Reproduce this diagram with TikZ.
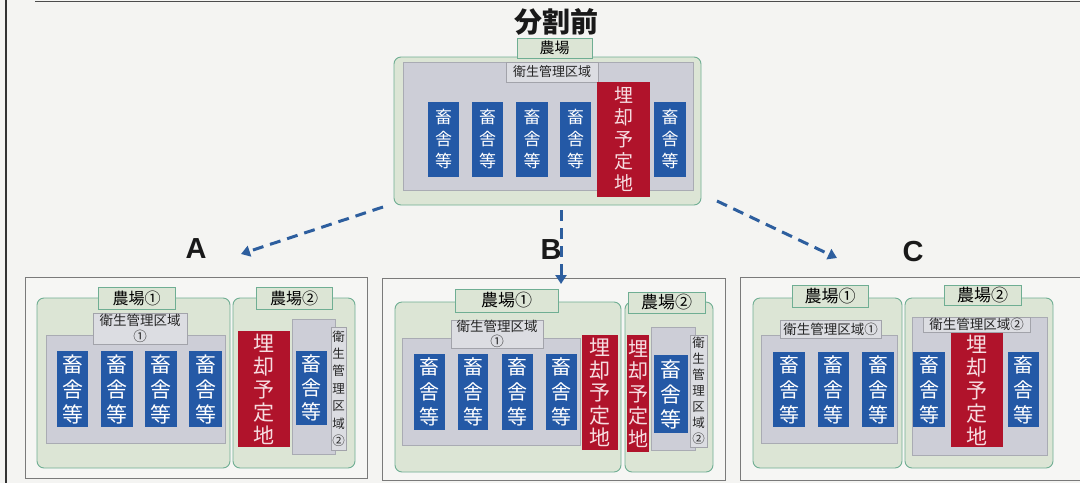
\documentclass[tikz,border=0pt]{standalone}
\usepackage{fontspec}
\newfontfamily\cjk{Noto Sans CJK JP}
\newfontfamily\lat{Liberation Sans}
\usetikzlibrary{arrows.meta}
\definecolor{bgpaper}{HTML}{F4F4F2}
\definecolor{grnF}{HTML}{DCE5D5}
\definecolor{grnB}{HTML}{6FAE93}
\definecolor{gryF}{HTML}{CDCED7}
\definecolor{gryB}{HTML}{A9ABB3}
\definecolor{lblF}{HTML}{DCDDE2}
\definecolor{lblB}{HTML}{A2A3AA}
\definecolor{shedblue}{HTML}{2459A6}
\definecolor{burred}{HTML}{B0132B}
\definecolor{burtxt}{HTML}{F6DDE1}
\definecolor{panelB}{HTML}{7A7A7A}
\definecolor{panelF}{HTML}{F6F6F4}
\definecolor{arrblue}{HTML}{2D5E9E}
\newcommand\fs[2]{\cjk\fontsize{#1}{#2}\selectfont}
\newcommand\bx[7]{\node[#2,anchor=north west,minimum width={(#5-#3)*1pt},minimum height={(#6-#4)*1pt}] (#1) at (#3,#4) {#7};}
\newcommand\shedtext{畜\\舎\\等}
\newcommand\burtext{埋\\却\\予\\定\\地}
\begin{document}
\begin{tikzpicture}[x=1pt,y=-1pt,
  every node/.style={inner sep=0pt,outer sep=0pt},
  panel/.style={draw=panelB,fill=panelF,line width=0.8pt},
  farm/.style={draw=grnB,fill=grnF,rounded corners=7pt,line width=0.9pt},
  tab/.style={draw=grnB,fill=grnF,line width=0.9pt},
  zone/.style={draw=gryB,fill=gryF,line width=0.8pt},
  zlabel/.style={draw=lblB,fill=lblF,line width=0.8pt,align=center,text=black!85},
  shed/.style={fill=shedblue,text=white,align=center},
  burial/.style={fill=burred,text=burtxt,align=center},
  dasharrow/.style={draw=arrblue,line width=3pt,dash pattern=on 11pt off 7pt,-{Triangle[length=9pt,width=11pt]}},
  letter/.style={font=\lat\bfseries\fontsize{29}{30}\selectfont,text=black!90}]
\clip (0,0) rectangle (1080,483);
\fill[bgpaper] (0,0) rectangle (1080,483);
% frame lines
\draw[black!80,line width=1.6pt] (6,0) -- (6,483);
\draw[black!70,line width=1.4pt] (35,1.5) -- (1080,1.5);

% ---------- before split ----------
\node[font=\cjk\bfseries\fontsize{28}{30}\selectfont,text=black!90] (title) at (556,22) {分割前};
\bx{farm0}{farm}{394}{57}{701}{205}{}
\bx{tab0}{tab,font=\fs{15}{17}}{517}{38}{592}{58}{農場}
\bx{zone0}{zone}{403}{62}{693}{190}{}
\bx{zl0}{zlabel,font=\fs{13}{15}}{506}{62}{598}{82}{衛生管理区域}
\bx{s01}{shed,font=\fs{17}{22}}{428}{102}{459}{177}{\shedtext}
\bx{s02}{shed,font=\fs{17}{22}}{472}{102}{503}{177}{\shedtext}
\bx{s03}{shed,font=\fs{17}{22}}{516}{102}{548}{177}{\shedtext}
\bx{s04}{shed,font=\fs{17}{22}}{560}{102}{591}{177}{\shedtext}
\bx{r0}{burial,font=\fs{19}{22}}{597}{82}{650}{197}{\burtext}
\bx{s05}{shed,font=\fs{17}{22}}{654}{102}{686}{177}{\shedtext}

% ---------- labels and arrows ----------
\node[letter] (lA) at (196,249) {A};
\node[letter] (lB) at (551,250) {B};
\node[letter] (lC) at (913,252) {C};
\coordinate (a0) at (383,207);
\coordinate (a1) at (241,254);
\coordinate (b0) at (561,210);
\coordinate (b1) at (561,284);
\coordinate (c0) at (717,201);
\coordinate (c1) at (837,258);

% ---------- panel A ----------
\bx{pA}{panel}{25}{277}{367}{478}{}
\bx{fA1}{farm}{37}{298}{230}{468}{}
\bx{tA1}{tab,font=\fs{16}{18}}{98}{287}{175}{309}{農場①}
\bx{zA1}{zone}{46}{335}{225}{443}{}
\bx{lA1}{zlabel,font=\fs{13.5}{15.5}}{93}{313}{187}{344}{衛生管理区域\\①}
\bx{sA1}{shed,font=\fs{21}{25}}{57}{351}{88}{427}{\shedtext}
\bx{sA2}{shed,font=\fs{21}{25}}{101}{351}{133}{427}{\shedtext}
\bx{sA3}{shed,font=\fs{21}{25}}{145}{351}{177}{427}{\shedtext}
\bx{sA4}{shed,font=\fs{21}{25}}{189}{351}{222}{427}{\shedtext}
\bx{fA2}{farm}{233}{298}{355}{468}{}
\bx{tA2}{tab,font=\fs{16}{18}}{256}{287}{332}{309}{農場②}
\bx{rA}{burial,font=\fs{21}{23}}{238}{331}{290}{447}{\burtext}
\bx{zA2}{zone}{292}{319}{335}{454}{}
\bx{lA2}{zlabel,font=\fs{12.5}{17.4}}{331}{327}{346}{450}{衛\\生\\管\\理\\区\\域\\②}
\bx{sA5}{shed,font=\fs{20}{24}}{296}{351}{327}{425}{\shedtext}

% ---------- panel B ----------
\bx{pB}{panel}{382}{278}{725}{480}{}
\bx{fB1}{farm}{395}{302}{621}{472}{}
\bx{tB1}{tab,font=\fs{17}{19}}{455}{289}{558}{312}{農場①}
\bx{zB1}{zone}{402}{338}{580}{445}{}
\bx{lB1}{zlabel,font=\fs{13.5}{15.5}}{451}{320}{543}{347}{衛生管理区域\\①}
\bx{sB1}{shed,font=\fs{20}{25}}{414}{354}{445}{430}{\shedtext}
\bx{sB2}{shed,font=\fs{20}{25}}{458}{354}{488}{430}{\shedtext}
\bx{sB3}{shed,font=\fs{20}{25}}{502}{354}{533}{430}{\shedtext}
\bx{sB4}{shed,font=\fs{20}{25}}{546}{354}{577}{430}{\shedtext}
\bx{rB1}{burial,font=\fs{21}{22.5}}{582}{335}{618}{450}{\burtext}
\bx{fB2}{farm}{625}{302}{713}{472}{}
\bx{tB2}{tab,font=\fs{17}{19}}{628}{292}{705}{313}{農場②}
\bx{rB2}{burial,font=\fs{20}{22.5}}{627}{335}{649}{452}{\burtext}
\bx{zB2}{zone}{651}{327}{695}{450}{}
\bx{lB2}{zlabel,font=\fs{12.5}{16}}{690}{335}{707}{447}{衛\\生\\管\\理\\区\\域\\②}
\bx{sB5}{shed,font=\fs{21}{25}}{654}{355}{688}{433}{\shedtext}

% ---------- panel C ----------
\bx{pC}{panel}{740}{277}{1086}{480}{}
\bx{fC1}{farm}{753}{298}{902}{468}{}
\bx{tC1}{tab,font=\fs{17}{19}}{792}{285}{868}{307}{農場①}
\bx{zC1}{zone}{761}{335}{897}{443}{}
\bx{lC1}{zlabel,font=\fs{13.5}{15.5}}{780}{320}{881}{338}{衛生管理区域①}
\bx{sC1}{shed,font=\fs{20}{25}}{773}{352}{805}{427}{\shedtext}
\bx{sC2}{shed,font=\fs{20}{25}}{818}{352}{849}{427}{\shedtext}
\bx{sC3}{shed,font=\fs{20}{25}}{862}{352}{894}{427}{\shedtext}
\bx{fC2}{farm}{905}{298}{1053}{468}{}
\bx{tC2}{tab,font=\fs{17}{19}}{944}{285}{1021}{305}{農場②}
\bx{zC2}{zone}{912}{317}{1047}{455}{}
\bx{lC2}{zlabel,font=\fs{13.5}{15.5}}{923}{317}{1030}{332}{衛生管理区域②}
\bx{sC4}{shed,font=\fs{20}{25}}{913}{352}{945}{427}{\shedtext}
\bx{rC}{burial,font=\fs{21}{23}}{951}{333}{1003}{447}{\burtext}
\bx{sC5}{shed,font=\fs{20}{25}}{1008}{352}{1039}{427}{\shedtext}

% arrows drawn last
\draw[dasharrow] (a0) -- (a1);
\draw[dasharrow] (b0) -- (b1);
\draw[dasharrow] (c0) -- (c1);
\end{tikzpicture}
\end{document}
